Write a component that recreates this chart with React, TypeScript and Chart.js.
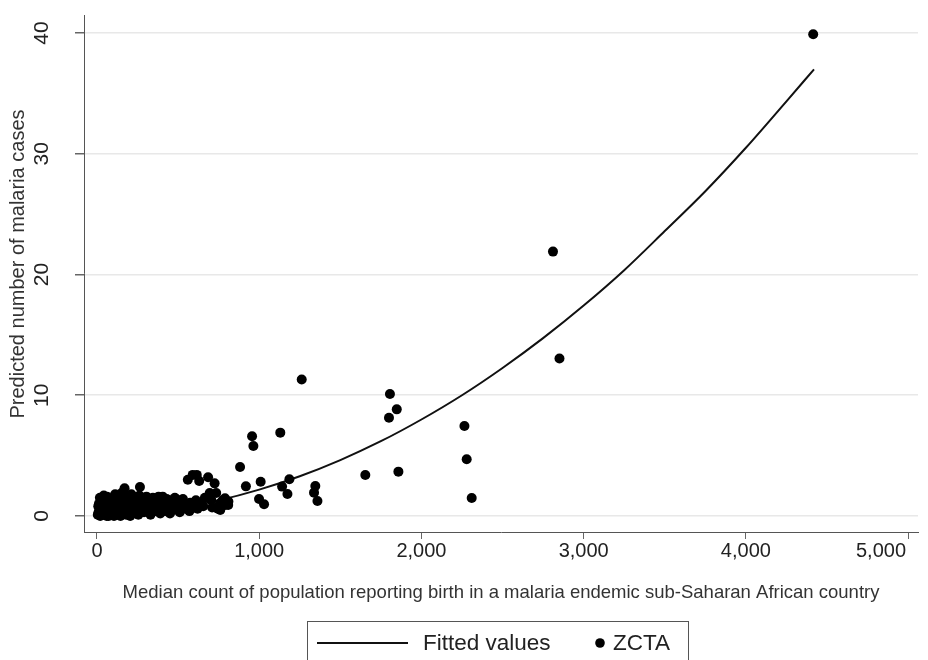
import React, { useEffect, useRef } from "react";
import { Chart, registerables } from "chart.js";

Chart.register(...registerables);

// ZCTA scatter points (x = median count, y = predicted malaria cases)
const zctaX = [
  5, 10, 15, 20, 25, 30, 35, 40, 45, 50, 55, 60, 65, 70, 75, 80, 85, 90, 95, 100,
  105, 110, 115, 120, 125, 130, 135, 140, 145, 150, 155, 160, 165, 170, 175, 180, 185, 190, 195, 200,
  205, 210, 215, 220, 225, 230, 240, 250, 255, 265, 270, 280, 290, 300, 310, 320, 330, 340, 350, 360,
  370, 380, 390, 400, 410, 420, 430, 440, 450, 460, 470, 480, 490, 500, 510, 520, 530, 545, 560, 570,
  575, 590, 600, 610, 615, 620, 630, 640, 655, 665, 685, 695, 705, 710, 725, 735, 745, 760, 775, 790,
  810, 8, 12, 28, 48, 58, 72, 88, 98, 108, 128, 148, 158, 178, 198, 218, 238, 258, 278, 298,
  318, 338, 358, 378, 398, 418, 438, 458, 478, 498, 518, 758, 789, 809,
  18, 42, 62, 82, 112, 132, 152, 172, 192, 212, 232, 262, 285, 305, 345, 365, 405, 445, 485, 525,
  882, 918, 956, 964, 1009, 999, 1030, 1130, 1141, 1186, 1174, 1262, 1346, 1338, 1359, 1654,
  1806, 1800, 1848, 1858, 2265, 2279, 2310, 2811, 2851, 4415,
];
const zctaY = [
  0.1, 0.3, 0.6, 0.0, 0.9, 0.2, 0.5, 1.1, 0.1, 0.4, 0.8, 0.0, 1.2, 0.3, 0.6, 0.9, 0.1, 1.3, 0.4, 0.7,
  0.0, 1.0, 0.3, 0.6, 1.4, 0.2, 0.8, 1.1, 0.0, 0.5, 1.6, 0.3, 0.9, 2.3, 1.2, 0.1, 0.6, 1.5, 0.4, 0.9,
  0.0, 1.3, 0.7, 0.2, 1.0, 0.5, 1.4, 0.8, 0.1, 2.4, 1.1, 0.6, 0.3, 0.9, 1.3, 0.5, 0.1, 0.8, 1.2, 0.4,
  1.0, 1.6, 0.2, 0.7, 1.1, 0.4, 1.4, 0.9, 0.2, 1.2, 0.5, 1.5, 0.8, 1.3, 0.3, 1.0, 1.4, 0.6, 3.0, 0.4,
  1.1, 3.4, 0.9, 1.3, 3.4, 0.6, 2.9, 1.0, 0.8, 1.5, 3.2, 1.9, 1.3, 0.7, 2.7, 1.9, 0.6, 0.5, 1.3, 0.9,
  1.2, 0.8, 1.0, 1.3, 0.7, 1.4, 0.0, 0.5, 1.1, 0.4, 0.9, 1.3, 0.7, 0.3, 1.2, 0.4, 0.9, 0.3, 1.3, 0.5,
  1.0, 0.4, 0.9, 0.6, 1.2, 0.8, 0.5, 0.9, 1.1, 0.6, 0.7, 1.05, 1.46, 0.91,
  1.5, 1.7, 1.6, 1.4, 1.8, 1.5, 1.9, 1.7, 1.6, 1.8, 1.5, 1.7, 1.4, 1.6, 1.5, 1.3, 1.6, 1.3, 1.4, 1.2,
  4.05, 2.45, 6.6, 5.8, 2.84, 1.41, 0.97, 6.9, 2.43, 3.04, 1.82, 11.3, 2.48, 1.93, 1.24, 3.39,
  10.1, 8.14, 8.83, 3.67, 7.45, 4.69, 1.49, 21.9, 13.05, 39.9,
];

// Fitted values line
const fitX = [0, 250, 500, 750, 1000, 1250, 1500, 1750, 2000, 2250, 2500, 2750, 3000, 3250, 3500, 3750, 4000, 4250, 4420];
const fitY = [0.05, 0.2, 0.63, 1.29, 2.18, 3.29, 4.63, 6.19, 7.99, 10.0, 12.26, 14.73, 17.43, 20.36, 23.6, 26.9, 30.5, 34.35, 37.0];

const xTicks = [0, 1000, 2000, 3000, 4000, 5000];
const yTicks = [0, 10, 20, 30, 40];

const xTitle = "Median count of population reporting birth in a malaria endemic sub-Saharan African country";
const yTitle = "Predicted number of malaria cases";
const fitLabel = "Fitted values";
const pointLabel = "ZCTA";

const FONT = '"Liberation Sans", Arial, sans-serif';

const textPlugin = {
  id: "stataText",
  afterDraw(chart: any) {
    const ctx = chart.ctx;
    const ys = chart.scales.y;
    const xs = chart.scales.x;
    const area = chart.chartArea;
    ctx.save();
    ctx.fillStyle = "#222";
    // x tick labels
    ctx.font = `20px ${FONT}`;
    ctx.textBaseline = "top";
    for (const v of xTicks) {
      const px = xs.getPixelForValue(v);
      const label = v.toLocaleString("en-US");
      const w = ctx.measureText(label).width;
      if (px + w / 2 > 906) {
        ctx.textAlign = "right";
        ctx.fillText(label, 906, 541);
      } else {
        ctx.textAlign = "center";
        ctx.fillText(label, px, 541);
      }
    }
    // y tick labels, rotated
    ctx.font = `21px ${FONT}`;
    ctx.textAlign = "center";
    ctx.textBaseline = "middle";
    for (const v of yTicks) {
      const py = ys.getPixelForValue(v);
      ctx.save();
      ctx.translate(42, py);
      ctx.rotate(-Math.PI / 2);
      ctx.fillText(String(v), 0, 0);
      ctx.restore();
    }
    // y title
    ctx.fillStyle = "#333";
    ctx.font = `20px ${FONT}`;
    ctx.save();
    ctx.translate(18, 264);
    ctx.rotate(-Math.PI / 2);
    ctx.fillText(yTitle, 0, 0);
    ctx.restore();
    // x title
    ctx.font = `18.5px ${FONT}`;
    ctx.fillText(xTitle, (area.left + area.right) / 2, 593);

    // legend
    ctx.strokeStyle = "#555";
    ctx.lineWidth = 1;
    ctx.strokeRect(307.5, 621.5, 381, 60);
    ctx.strokeStyle = "#111";
    ctx.lineWidth = 2;
    ctx.beginPath();
    ctx.moveTo(317, 643);
    ctx.lineTo(408, 643);
    ctx.stroke();
    ctx.fillStyle = "#222";
    ctx.font = `22.5px ${FONT}`;
    ctx.textAlign = "left";
    ctx.fillText(fitLabel, 423, 644);
    ctx.fillStyle = "#000";
    ctx.beginPath();
    ctx.arc(600, 643, 4.8, 0, Math.PI * 2);
    ctx.fill();
    ctx.fillStyle = "#222";
    ctx.fillText(pointLabel, 613, 644);
    ctx.restore();
  },
};

export default function App() {
  const ref = useRef<HTMLCanvasElement | null>(null);
  useEffect(() => {
    if (!ref.current) return;
    const chart = new Chart(ref.current, {
      type: "scatter",
      data: {
        datasets: [
          {
            label: pointLabel,
            data: zctaX.map((x, i) => ({ x, y: zctaY[i] })),
            backgroundColor: "#000",
            borderColor: "#000",
            pointRadius: 5,
            pointBorderWidth: 0,
            showLine: false,
          },
          {
            type: "line",
            label: fitLabel,
            data: fitX.map((x, i) => ({ x, y: fitY[i] })),
            borderColor: "#111",
            borderWidth: 2,
            pointRadius: 0,
            showLine: true,
            fill: false,
            cubicInterpolationMode: "monotone",
          } as any,
        ],
      },
      options: {
        animation: false,
        responsive: false,
        layout: { padding: { left: 0, right: 10, top: 15, bottom: 0 } },
        plugins: { legend: { display: false }, tooltip: { enabled: false } },
        scales: {
          x: {
            type: "linear",
            min: -80,
            max: 5061,
            afterBuildTicks: (s: any) => {
              s.ticks = xTicks.map((v) => ({ value: v }));
            },
            afterFit: (s: any) => {
              s.height = 128;
            },
            grid: { drawOnChartArea: false, drawTicks: true, tickLength: 7, tickColor: "#666", lineWidth: 1 },
            border: { display: true, color: "#555", width: 1 },
            ticks: { display: false },
          },
          y: {
            type: "linear",
            min: -1.33,
            max: 41.5,
            afterBuildTicks: (s: any) => {
              s.ticks = yTicks.map((v) => ({ value: v }));
            },
            afterFit: (s: any) => {
              s.width = 84;
            },
            grid: { color: "#e8e8e8", lineWidth: 1.5, drawTicks: true, tickLength: 9, tickColor: "#666" },
            border: { display: true, color: "#555", width: 1 },
            ticks: { display: false },
          },
        },
      },
      plugins: [textPlugin],
    });
    return () => chart.destroy();
  }, []);
  return (
    <div style={{ position: "fixed", left: 0, top: 0, width: 928, height: 660, background: "#fff" }}>
      <canvas ref={ref} width={928} height={660} />
    </div>
  );
}
